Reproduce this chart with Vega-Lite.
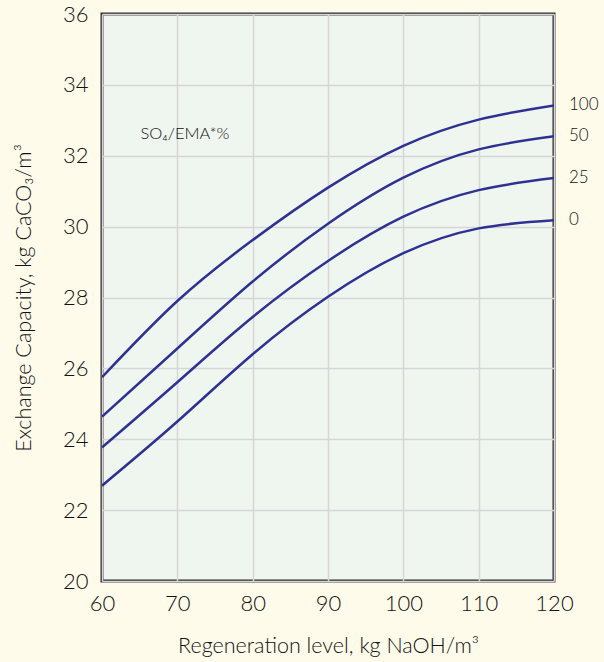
{
  "$schema": "https://vega.github.io/schema/vega-lite/v6.json",
  "width": 452,
  "height": 567,
  "autosize": {"type": "none"},
  "padding": {"left": 102, "top": 14, "right": 50, "bottom": 81},
  "background": "#fffbea",
  "config": {
    "view": {"fill": "#eff6f0", "stroke": "#2b2b2b", "strokeWidth": 3},
    "font": "Lato",
    "axis": {
      "grid": true,
      "gridColor": "#d6d6d6",
      "gridWidth": 1.5,
      "domain": false,
      "ticks": false,
      "labelFlush": false,
      "labelOverlap": false,
      "labelFont": "Lato",
      "labelFontSize": 22,
      "labelFontWeight": 300,
      "labelColor": "#111111",
      "titleFont": "Lato",
      "titleFontSize": 21.5,
      "titleFontWeight": 300,
      "titleColor": "#111111"
    }
  },
  "datasets": {
    "curves": [
      {"x": 60, "y": 25.75, "s": "100"},
      {"x": 70, "y": 27.9, "s": "100"},
      {"x": 80, "y": 29.62, "s": "100"},
      {"x": 90, "y": 31.1, "s": "100"},
      {"x": 100, "y": 32.28, "s": "100"},
      {"x": 110, "y": 33.02, "s": "100"},
      {"x": 120, "y": 33.42, "s": "100"},
      {"x": 60, "y": 24.64, "s": "50"},
      {"x": 70, "y": 26.56, "s": "50"},
      {"x": 80, "y": 28.45, "s": "50"},
      {"x": 90, "y": 30.08, "s": "50"},
      {"x": 100, "y": 31.38, "s": "50"},
      {"x": 110, "y": 32.18, "s": "50"},
      {"x": 120, "y": 32.55, "s": "50"},
      {"x": 60, "y": 23.77, "s": "25"},
      {"x": 70, "y": 25.61, "s": "25"},
      {"x": 80, "y": 27.45, "s": "25"},
      {"x": 90, "y": 29.03, "s": "25"},
      {"x": 100, "y": 30.28, "s": "25"},
      {"x": 110, "y": 31.03, "s": "25"},
      {"x": 120, "y": 31.37, "s": "25"},
      {"x": 60, "y": 22.69, "s": "0"},
      {"x": 70, "y": 24.5, "s": "0"},
      {"x": 80, "y": 26.4, "s": "0"},
      {"x": 90, "y": 28.02, "s": "0"},
      {"x": 100, "y": 29.25, "s": "0"},
      {"x": 110, "y": 29.95, "s": "0"},
      {"x": 120, "y": 30.18, "s": "0"}
    ],
    "ends": [
      {"x": 120, "y": 33.42, "s": "100"},
      {"x": 120, "y": 32.55, "s": "50"},
      {"x": 120, "y": 31.37, "s": "25"},
      {"x": 120, "y": 30.18, "s": "0"}
    ],
    "note": [
      {"x": 65.1, "y": 32.6, "t": "SO₄/EMA*%"}
    ]
  },
  "layer": [
    {
      "data": {"name": "curves"},
      "mark": {"type": "line", "color": "#2e3192", "strokeWidth": 2.5, "interpolate": "natural", "clip": true},
      "encoding": {
        "x": {
          "field": "x", "type": "quantitative",
          "scale": {"domain": [60, 120], "nice": false, "zero": false},
          "axis": {"values": [60, 70, 80, 90, 100, 110, 120], "labelPadding": 12, "title": "Regeneration level, kg NaOH/m³", "titlePadding": 21}
        },
        "y": {
          "field": "y", "type": "quantitative",
          "scale": {"domain": [20, 36], "nice": false, "zero": false},
          "axis": {"values": [20, 22, 24, 26, 28, 30, 32, 34, 36], "labelPadding": 14, "title": "Exchange Capacity, kg CaCO₃/m³", "titlePadding": 27}
        },
        "detail": {"field": "s", "type": "nominal"}
      }
    },
    {
      "data": {"name": "ends"},
      "mark": {"type": "text", "align": "left", "baseline": "middle", "dx": 15, "fontSize": 17, "fontWeight": 300, "font": "Lato", "color": "#111111", "clip": false},
      "encoding": {
        "x": {"field": "x", "type": "quantitative"},
        "y": {"field": "y", "type": "quantitative"},
        "text": {"field": "s", "type": "nominal"}
      }
    },
    {
      "data": {"name": "note"},
      "mark": {"type": "text", "align": "left", "baseline": "middle", "fontSize": 16.5, "fontWeight": 300, "font": "Lato", "color": "#111111"},
      "encoding": {
        "x": {"field": "x", "type": "quantitative"},
        "y": {"field": "y", "type": "quantitative"},
        "text": {"field": "t", "type": "nominal"}
      }
    }
  ]
}
